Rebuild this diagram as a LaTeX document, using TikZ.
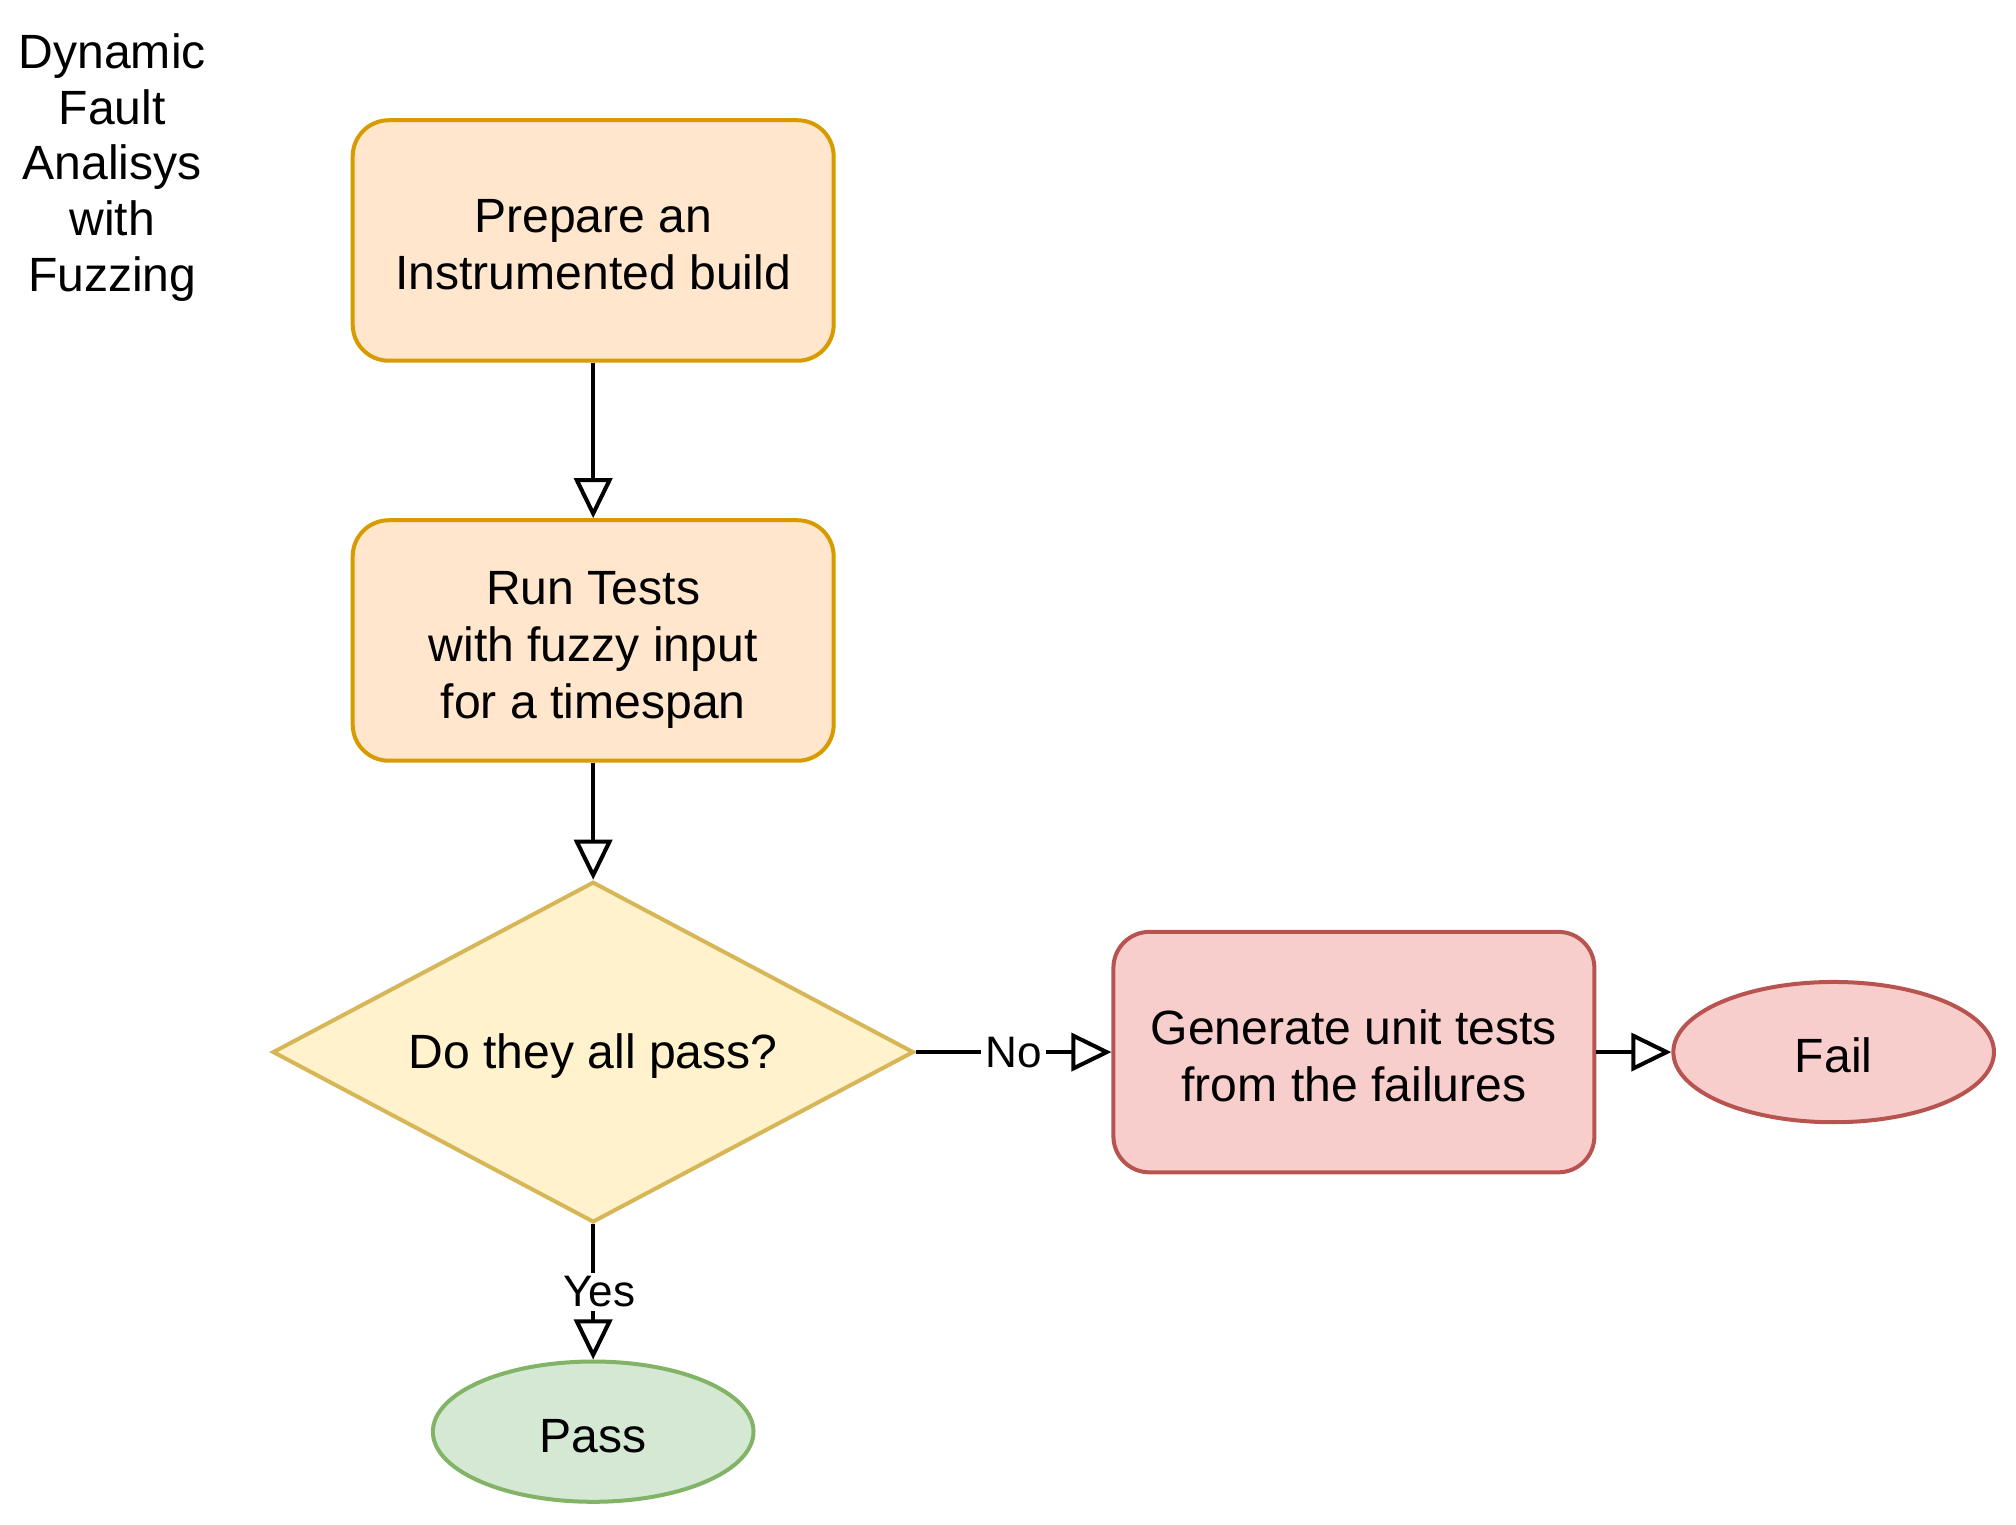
\documentclass[tikz,border=0pt]{standalone}
\usepackage{fontspec}
\setmainfont{Liberation Sans}
\usetikzlibrary{shapes.geometric,arrows.meta}
\definecolor{orfill}{HTML}{FFE6CC}
\definecolor{ordraw}{HTML}{D79B00}
\definecolor{yefill}{HTML}{FFF2CC}
\definecolor{yedraw}{HTML}{D6B656}
\definecolor{refill}{HTML}{F8CECC}
\definecolor{redraw}{HTML}{B85450}
\definecolor{grfill}{HTML}{D5E8D4}
\definecolor{grdraw}{HTML}{82B366}
\tikzset{
  txt/.style={font=\fontsize{12}{14.2}\selectfont, align=center},
  oneline/.style={text depth=0pt, text height=10.3pt},
  twolines/.style={text depth=0pt, text height=24.5pt},
  threelines/.style={text depth=0pt, text height=38.7pt},
  procbox/.style={txt, rectangle, rounded corners=9pt, minimum width=120pt, minimum height=60pt, inner sep=0pt, line width=1pt},
  orbox/.style={procbox, draw=ordraw, fill=orfill},
  rebox/.style={procbox, draw=redraw, fill=refill},
  decis/.style={txt, text depth=0.5pt, diamond, aspect=1.88, minimum width=160pt, minimum height=85pt, inner sep=0pt, line width=1pt, draw=yedraw, fill=yefill},
  term/.style={txt, oneline, ellipse, minimum width=80pt, minimum height=35pt, inner sep=0pt, line width=1pt},
  flow/.style={draw=black, line width=1pt, -{Triangle[length=10pt,width=9.5pt,fill=white]}},
  elabel/.style={font=\fontsize{11}{13}\selectfont, fill=white, inner sep=1pt}
}
\begin{document}
\begin{tikzpicture}[x=1pt,y=-1pt]
\useasboundingbox (0,0) rectangle (503,380.3);
\node[txt, text depth=0pt, font=\fontsize{12}{13.9}\selectfont] (title) at (28,40.5) {Dynamic\\Fault\\Analisys\\with\\Fuzzing};
\node[orbox, twolines] (prep) at (148,60.0) {Prepare an\\Instrumented build};
\node[orbox, threelines] (run) at (148,159.8) {Run Tests\\with fuzzy input\\for a timespan};
\node[decis] (dec) at (148,262.5) {Do they all pass?};
\node[rebox, twolines] (gen) at (337.8,262.5) {Generate unit tests\\from the failures};
\node[term, draw=redraw, fill=refill] (fail) at (457.5,262.5) {Fail};
\node[term, draw=grdraw, fill=grfill] (pass) at (148,357.2) {Pass};
\draw[flow] (prep.south) -- (run.north);
\draw[flow] (run.south) -- (dec.north);
\draw[flow] (dec.east) -- node[elabel] {No} (gen.west);
\draw[flow] (gen.east) -- (fail.west);
\draw[flow] (dec.south) -- node[elabel, xshift=1.5pt] {Yes} (pass.north);
\end{tikzpicture}
\end{document}
